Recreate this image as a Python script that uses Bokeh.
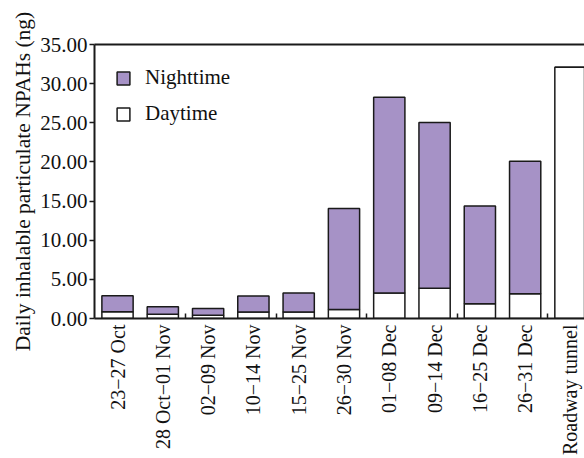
import math
from bokeh.plotting import figure
from bokeh.models import (Range1d, FixedTicker, LinearAxis, NumeralTickFormatter,
                          Legend, LegendItem, ColumnDataSource)
from bokeh.embed import file_html
from bokeh.resources import INLINE

categories = ["23−27 Oct", "28 Oct−01 Nov", "02−09 Nov", "10−14 Nov", "15−25 Nov",
              "26−30 Nov", "01−08 Dec", "09−14 Dec", "16−25 Dec", "26−31 Dec",
              "Roadway tunnel"]
daytime = [0.85, 0.55, 0.42, 0.82, 0.82, 1.15, 3.25, 3.85, 1.88, 3.15, 32.1]
nighttime = [2.05, 0.95, 0.85, 2.06, 2.44, 12.9, 25.0, 21.2, 12.5, 16.95, 0.0]
y_ticks = [0, 5, 10, 15, 20, 25, 30, 35]

FONT = "Liberation Serif"
PURPLE = "#A692C6"
FS = "21px"

xs = list(range(1, len(categories) + 1))
source = ColumnDataSource(dict(x=xs, daytime=daytime, nighttime=nighttime))

p = figure(width=584, height=458, output_backend="svg", toolbar_location=None,
           x_range=Range1d(0.492, 11.31), y_range=Range1d(0, 35),
           min_border_left=94, min_border_top=44, min_border_bottom=138,
           min_border_right=0)
p.outline_line_color = None
p.grid.visible = False
p.background_fill_color = "white"
p.border_fill_color = "white"

rs = p.vbar_stack(["daytime", "nighttime"], x="x", width=0.69, source=source,
                  fill_color=["white", PURPLE], line_color="#1a1a1a", line_width=1.5)

legend = Legend(items=[LegendItem(label="Nighttime", renderers=[rs[1]]),
                       LegendItem(label="Daytime", renderers=[rs[0]])],
                location="top_left")
legend.label_text_font = FONT
legend.label_text_font_size = FS
legend.label_text_color = "#111111"
legend.glyph_width = 16
legend.glyph_height = 16
legend.label_height = 20
legend.label_standoff = 14
legend.spacing = 11
legend.margin = 21
legend.padding = 16
legend.border_line_color = None
legend.background_fill_alpha = 0
p.add_layout(legend)

# x axis
xa = p.xaxis[0]
xa.ticker = FixedTicker(ticks=xs, minor_ticks=[2.5, 4.5, 6.5, 8.5, 10.5])
xa.major_label_overrides = {x: c for x, c in zip(xs, categories)}
xa.major_label_orientation = math.pi / 2
xa.major_label_text_font = FONT
xa.major_label_text_font_size = "20px"
xa.major_label_text_color = "#111111"
xa.major_label_standoff = 6
xa.major_tick_in = 0
xa.major_tick_out = 0
xa.minor_tick_in = 5
xa.minor_tick_out = 0
xa.axis_line_width = 2
xa.axis_line_color = "#1a1a1a"
xa.minor_tick_line_color = "#1a1a1a"
xa.minor_tick_line_width = 1.5

# y axis
ya = p.yaxis[0]
ya.ticker = FixedTicker(ticks=y_ticks, minor_ticks=[])
ya.formatter = NumeralTickFormatter(format="0.00")
ya.axis_label = "Daily inhalable particulate NPAHs (ng)"
ya.axis_label_text_font = FONT
ya.axis_label_text_font_style = "normal"
ya.axis_label_text_font_size = "21.5px"
ya.axis_label_text_color = "#111111"
ya.axis_label_standoff = 2
ya.major_label_text_font = FONT
ya.major_label_text_font_size = FS
ya.major_label_text_color = "#111111"
ya.major_label_standoff = 2
ya.major_tick_in = 0
ya.major_tick_out = 5
ya.major_tick_line_width = 1.5
ya.major_tick_line_color = "#1a1a1a"
ya.axis_line_width = 2
ya.axis_line_color = "#1a1a1a"

# top border line
top = LinearAxis(ticker=FixedTicker(ticks=[]), major_tick_in=0, major_tick_out=0,
                 minor_tick_in=0, minor_tick_out=0, major_label_text_font_size="0px",
                 axis_line_width=2, axis_line_color="#1a1a1a")
p.add_layout(top, "above")

open("out.html", "w").write(file_html(p, INLINE))
